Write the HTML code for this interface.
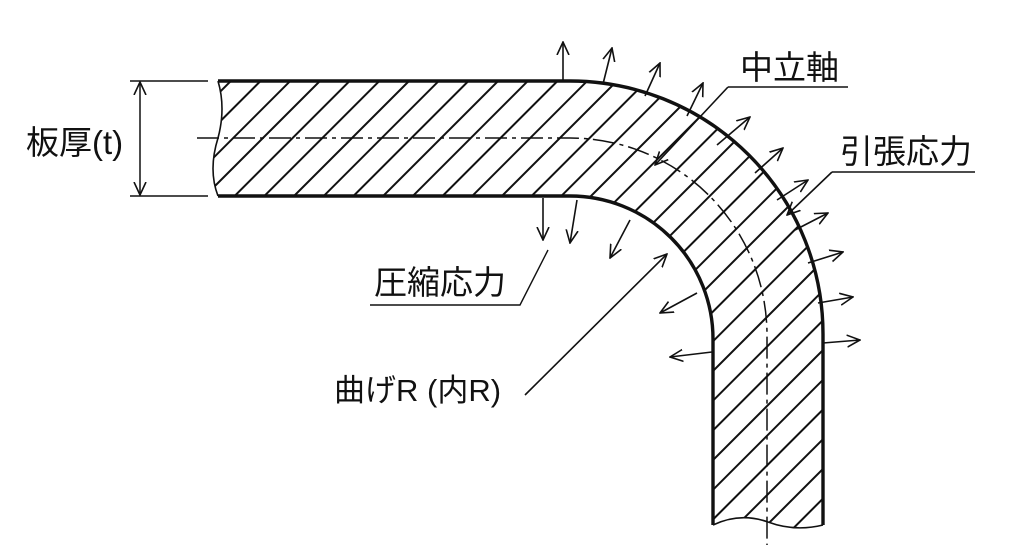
<!DOCTYPE html>
<html><head><meta charset="utf-8"><style>
html,body{margin:0;padding:0;background:#fff;}
svg{display:block}
text{font-family:"Liberation Sans","Noto Sans CJK JP",sans-serif;fill:#111;}
</style></head><body>
<svg width="1024" height="559" viewBox="0 0 1024 559" xmlns="http://www.w3.org/2000/svg">
<defs>
<pattern id="h" patternUnits="userSpaceOnUse" width="21" height="21" patternTransform="rotate(-45)">
<line x1="0" y1="10.5" x2="21" y2="10.5" stroke="#111" stroke-width="2"/>
</pattern>
<clipPath id="c">
<path d="M218,81 L570,81 A253,253 0 0 1 823,334 L823,525 Q795,532 768,522 Q740,512 713,525 L713,339 A143,143 0 0 0 570,196 L218,196 Q208,170 218,138 Q226,108 218,81 Z"/>
</clipPath>
<marker id="a" viewBox="0 0 14 14" refX="13" refY="7" markerWidth="14" markerHeight="14" markerUnits="userSpaceOnUse" orient="auto">
<path d="M0,1 L13,7 L0,13" fill="none" stroke="#111" stroke-width="1.6"/>
</marker>
</defs>
<g clip-path="url(#c)">
<rect x="0" y="0" width="1024" height="559" fill="url(#h)"/>
</g>
<g fill="none" stroke="#111">
<path d="M218,81 L570,81 A253,253 0 0 1 823,334 L823,525" stroke-width="3.4"/>
<path d="M218,196 L570,196 A143,143 0 0 1 713,339 L713,525" stroke-width="3.4"/>
<path d="M218,81 Q226,108 218,138 Q208,170 218,196" stroke-width="1.6"/>
<path d="M713,525 Q740,512 768,522 Q795,532 823,525" stroke-width="1.6"/>
<path d="M197,138 L570,138 A197,197 0 0 1 767,335 L767,545" stroke-width="1.5" stroke-dasharray="22,5,4,5"/>
<line x1="130" y1="81" x2="208" y2="81" stroke-width="1.4"/>
<line x1="130" y1="196" x2="208" y2="196" stroke-width="1.4"/>
<line x1="140" y1="138" x2="140" y2="82" stroke-width="1.5" marker-end="url(#a)"/>
<line x1="140" y1="138" x2="140" y2="195" stroke-width="1.5" marker-end="url(#a)"/>
<g stroke-width="1.6" marker-end="url(#a)">
<line x1="563" y1="81" x2="563" y2="42"/>
<line x1="603" y1="84" x2="612" y2="48"/>
<line x1="645" y1="96" x2="660" y2="63"/>
<line x1="687" y1="116" x2="703" y2="83"/>
<line x1="717" y1="145" x2="750" y2="117"/>
<line x1="755" y1="173" x2="783" y2="148"/>
<line x1="777" y1="200" x2="808" y2="180"/>
<line x1="795" y1="230" x2="828" y2="213"/>
<line x1="808" y1="263" x2="843" y2="252"/>
<line x1="818" y1="303" x2="853" y2="297"/>
<line x1="823" y1="343" x2="860" y2="340"/>
<line x1="543" y1="198" x2="543" y2="240"/>
<line x1="577" y1="200" x2="570" y2="243"/>
<line x1="630" y1="220" x2="610" y2="258"/>
<line x1="697" y1="293" x2="660" y2="313"/>
<line x1="712" y1="352" x2="670" y2="357"/>
<line x1="728" y1="87" x2="655" y2="165"/>
<line x1="832" y1="172" x2="787" y2="215"/>
<line x1="525" y1="395" x2="667" y2="254"/>
</g>
<line x1="728" y1="87" x2="848" y2="87" stroke-width="1.4"/>
<line x1="832" y1="172" x2="975" y2="172" stroke-width="1.4"/>
<polyline points="370,305 520,305 548,250" stroke-width="1.4"/>
</g>
<text x="740" y="79" font-size="33">中立軸</text>
<text x="840" y="163" font-size="33">引張応力</text>
<text x="374" y="294" font-size="33">圧縮応力</text>
<text x="334" y="401" font-size="31">曲げR (内R)</text>
<text x="26" y="154" font-size="33">板厚(t)</text>
</svg>
</body></html>
